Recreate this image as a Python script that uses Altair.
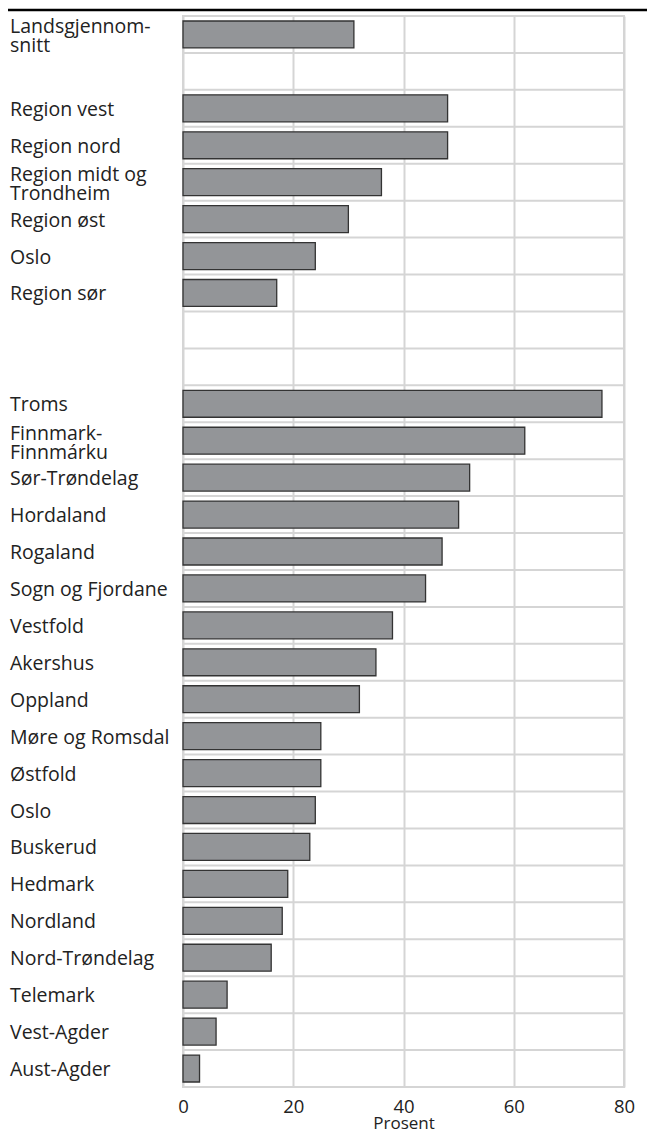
import altair as alt
import pandas as pd

labels = [
    "Landsgjennom-\nsnitt", "",
    "Region vest", "Region nord", "Region midt og\nTrondheim", "Region øst", "Oslo", "Region sør",
    "", "",
    "Troms", "Finnmark-\nFinnmárku", "Sør-Trøndelag", "Hordaland", "Rogaland",
    "Sogn og Fjordane", "Vestfold", "Akershus", "Oppland", "Møre og Romsdal",
    "Østfold", "Oslo", "Buskerud", "Hedmark", "Nordland", "Nord-Trøndelag",
    "Telemark", "Vest-Agder", "Aust-Agder",
]
values = [
    31, None,
    48, 48, 36, 30, 24, 17,
    None, None,
    76, 62, 52, 50, 47,
    44, 38, 35, 32, 25,
    25, 24, 23, 19, 18, 16,
    8, 6, 3,
]
x_ticks = [0, 20, 40, 60, 80]

ids = [f"r{i:02d}" for i in range(len(labels))]
df = pd.DataFrame({"id": ids, "label": labels, "value": values})
df["multi"] = df["label"].str.contains("\n")

FONT = "Open Sans"
GRID = "#d5d5d5"
TXT = "#222222"
FS = 19.5

yscale = alt.Scale(domain=ids, paddingInner=0, paddingOuter=0)

hgrid = alt.Chart(df).mark_rule(color=GRID, strokeWidth=2).encode(
    y=alt.Y("id:N", scale=yscale, axis=None, bandPosition=0),
)

bars = alt.Chart(df).transform_filter("isValid(datum.value)").mark_bar(
    color="#939598", stroke="#333333", strokeWidth=1.3, height=alt.RelativeBandSize(0.73)
).encode(
    x=alt.X("value:Q", scale=alt.Scale(domain=[0, 80], nice=False),
            axis=alt.Axis(values=x_ticks, title="Prosent", grid=True, gridColor=GRID,
                          gridWidth=2, ticks=False, domain=False, labelFontSize=18.5,
                          labelFont=FONT, labelColor=TXT, labelPadding=10, labelFlush=False,
                          titleFont=FONT, titleFontSize=17, titleFontWeight="normal",
                          titleColor=TXT, titlePadding=0)),
    y=alt.Y("id:N", scale=yscale, axis=None),
)

text_single = alt.Chart(df).transform_filter("!datum.multi").mark_text(
    align="left", baseline="middle", font=FONT, fontSize=FS, color=TXT, dy=1.5
).encode(
    x=alt.value(-173),
    y=alt.Y("id:N", scale=yscale, axis=None),
    text="label:N",
)

text_multi = alt.Chart(df).transform_filter("datum.multi").mark_text(
    align="left", baseline="middle", font=FONT, fontSize=FS, color=TXT,
    lineBreak="\n", lineHeight=19, dy=-7
).encode(
    x=alt.value(-173),
    y=alt.Y("id:N", scale=yscale, axis=None),
    text="label:N",
)

top_rule = alt.Chart(df).transform_filter("datum.id == 'r00'").mark_rule(
    color="black", strokeWidth=2.5
).encode(x=alt.value(-175), x2=alt.value(464), y=alt.value(-6))

chart = alt.layer(hgrid, bars, text_single, text_multi, top_rule).properties(
    width=441, height=1071,
    autosize=alt.AutoSizeParams(type="none"),
    padding={"left": 175, "top": 8, "right": 23, "bottom": 47},
).configure_view(stroke=GRID, strokeWidth=2)

chart.save("out.html", embed_options={"renderer": "svg", "actions": False})
